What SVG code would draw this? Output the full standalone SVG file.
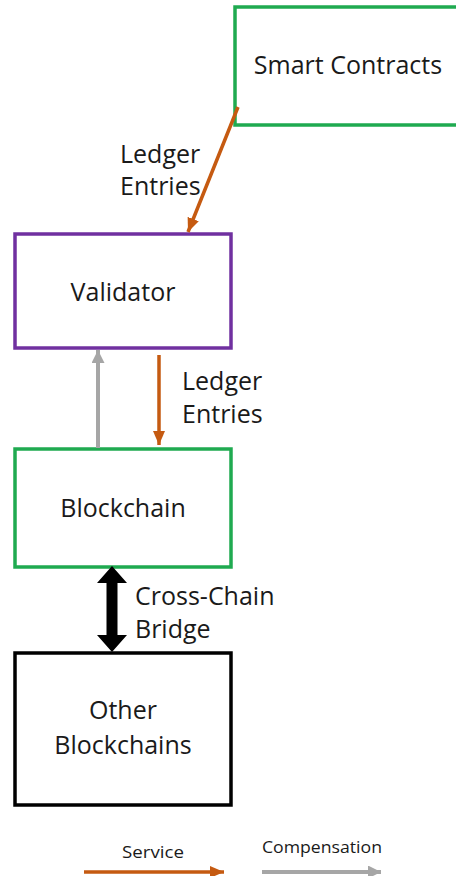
<svg xmlns="http://www.w3.org/2000/svg" width="456" height="876" viewBox="0 0 456 876">
  <defs>
    <marker id="head-orange" viewBox="0 0 14 12" refX="14" refY="6" markerWidth="14" markerHeight="12" markerUnits="userSpaceOnUse" orient="auto">
      <path d="M0,0 L14,6 L0,12 Z" fill="#c55a11"/>
    </marker>
    <marker id="head-gray" viewBox="0 0 13 13" refX="13" refY="6.5" markerWidth="13" markerHeight="13" markerUnits="userSpaceOnUse" orient="auto">
      <path d="M0,0 L13,6.5 L0,13 Z" fill="#a6a6a6"/>
    </marker>
  </defs>
  <style>
    .box { fill: #ffffff; stroke-width: 3.5; }
    .green { stroke: #1faa50; }
    .purple { stroke: #7030a0; }
    .black { stroke: #000000; }
    .label { font-family: "Open Sans", "Liberation Sans", sans-serif; font-size: 25px; fill: #1a1a1a; }
    .mid { text-anchor: middle; }
    .legend { font-family: "Open Sans", "Liberation Sans", sans-serif; font-size: 17px; fill: #1a1a1a; }
    .service { stroke: #c55a11; stroke-width: 3.5; fill: none; }
    .comp { stroke: #a6a6a6; stroke-width: 4; fill: none; }
  </style>

  <rect width="456" height="876" fill="#ffffff"/>

  <!-- nodes -->
  <g id="smart-contracts">
    <rect class="box green" x="235" y="7" width="240" height="118"/>
    <text class="label mid" x="348" y="74">Smart Contracts</text>
  </g>
  <g id="validator">
    <rect class="box purple" x="15" y="234" width="216" height="114"/>
    <text class="label mid" x="123" y="301">Validator</text>
  </g>
  <g id="blockchain">
    <rect class="box green" x="15" y="449" width="216" height="118"/>
    <text class="label mid" x="123" y="517">Blockchain</text>
  </g>
  <g id="other-blockchains">
    <rect class="box black" x="15" y="653" width="216" height="152"/>
    <text class="label mid" x="123" y="719">Other</text>
    <text class="label mid" x="123" y="754">Blockchains</text>
  </g>

  <!-- connectors -->
  <g id="connectors">
    <line class="service" x1="238" y1="107" x2="188" y2="232" marker-end="url(#head-orange)"/>
    <text class="label" x="120" y="163">Ledger</text>
    <text class="label" x="120" y="195">Entries</text>

    <line class="comp" x1="98" y1="448" x2="98" y2="350" marker-end="url(#head-gray)"/>
    <line class="service" x1="159" y1="355" x2="159" y2="445" marker-end="url(#head-orange)"/>
    <text class="label" x="182" y="390">Ledger</text>
    <text class="label" x="182" y="423">Entries</text>

    <path d="M112,566 L127,583 L117.5,583 L117.5,635 L127,635 L112,652 L97,635 L106.5,635 L106.5,583 L97,583 Z" fill="#000000"/>
    <text class="label" x="135" y="605">Cross-Chain</text>
    <text class="label" x="135" y="638">Bridge</text>
  </g>

  <!-- legend -->
  <g id="legend">
    <line class="service" x1="84" y1="872" x2="224" y2="872" marker-end="url(#head-orange)"/>
    <text class="legend" x="122" y="858" textLength="62" lengthAdjust="spacingAndGlyphs">Service</text>
    <line class="comp" x1="262" y1="872" x2="381" y2="872" marker-end="url(#head-gray)"/>
    <text class="legend" x="262" y="853" textLength="120" lengthAdjust="spacingAndGlyphs">Compensation</text>
  </g>
</svg>
